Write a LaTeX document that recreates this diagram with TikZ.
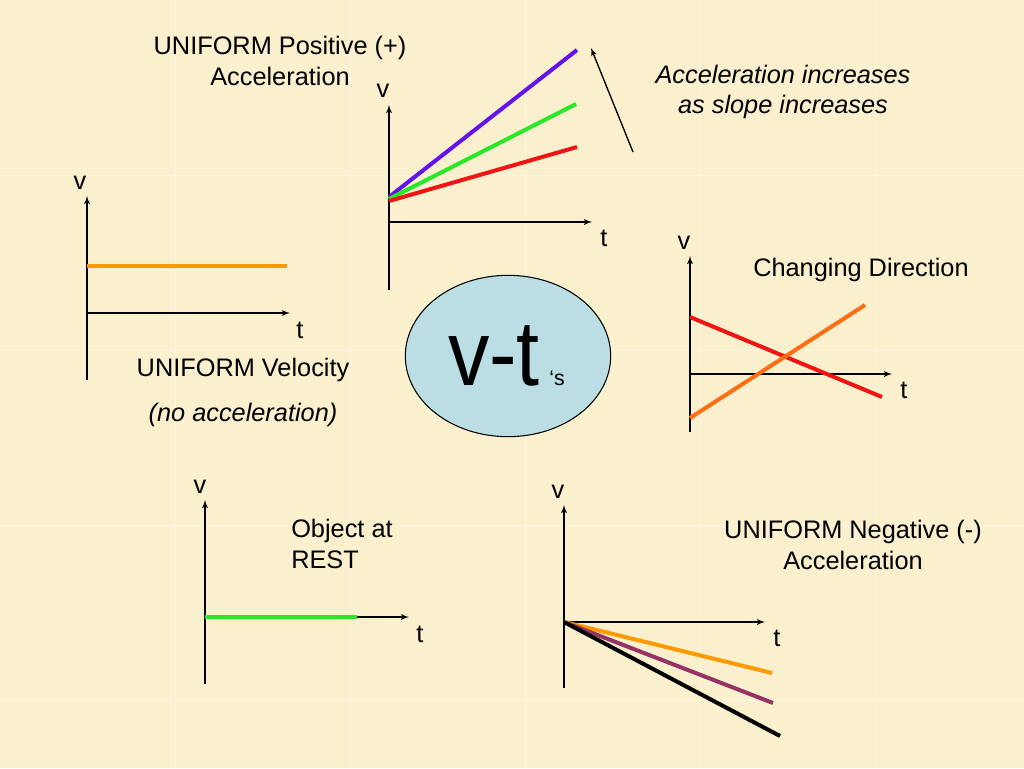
\documentclass[tikz,border=0pt]{standalone}
\usepackage{fontspec}
\setmainfont{Liberation Sans}
\usetikzlibrary{shapes, arrows}
\definecolor{parchment}{RGB}{250,240,206}
\definecolor{bubblefill}{RGB}{186,222,228}
\definecolor{violetline}{RGB}{100,20,232}
\definecolor{greenline}{RGB}{40,232,40}
\definecolor{redline}{RGB}{240,20,20}
\definecolor{orangeline}{RGB}{255,153,0}
\definecolor{darkorange}{RGB}{255,110,20}
\definecolor{plumline}{RGB}{150,50,100}
\tikzstyle{axis} =
        [
                draw,
                line width = 1.1pt,
                -latex'
        ]
\tikzstyle{graph} =
        [
                draw,
                line width = 3pt
        ]
\tikzstyle{label} =
        [
                font = \fontsize{19}{23}\selectfont,
                inner sep = 0pt,
                align = center
        ]
\tikzstyle{bubble} =
        [
                draw,
                ellipse,
                fill = bubblefill,
                line width = 0.8pt,
                minimum width = 154pt,
                minimum height = 121pt
        ]

\begin{document}
\begin{tikzpicture}[x = 0.75pt, y = -0.75pt]
        \useasboundingbox (0,0) rectangle (1024,768);
        \fill [parchment] (0,0) rectangle (1024,768);
        \foreach \s in {175, 350, 525, 700, 875}
        {
                \draw [white, opacity = 0.35, line width = 0.6pt] (\s,0) -- (\s,768);
                \draw [white, opacity = 0.35, line width = 0.6pt] (0,\s) -- (1024,\s);
        }

        % uniform positive acceleration
        \node [label] (postitle) at (280,61) {UNIFORM Positive (+)\\Acceleration};
        \node [label] (posv) at (383,91) {v};
        \node [label] (post) at (604,238) {t};
        \path [axis] (389,290) -- (389,105);
        \path [axis] (389,222) -- (592,222);
        \path [graph, violetline] (389,197) -- (577,50);
        \path [graph, greenline] (389,199) -- (576,104);
        \path [graph, redline] (389,201) -- (577,147);
        \coordinate (slopetail) at (633,152);
        \coordinate (slopehead) at (591,48);
        \path [axis, line width = 1pt] (slopetail) -- (slopehead);
        \node [label, font = \fontsize{19}{23}\selectfont\itshape] (slopenote) at (783,92) {Acceleration increases\\as slope increases};

        % uniform velocity
        \node [label] (velv) at (80,183) {v};
        \node [label] (velt) at (300,330) {t};
        \path [axis] (87,380) -- (87,196);
        \path [axis] (87,313) -- (290,313);
        \path [graph, orangeline] (87,266) -- (287,266);
        \node [label] (veltitle) at (243,370) {UNIFORM Velocity};
        \node [label, font = \fontsize{19}{23}\selectfont\itshape] (velnote) at (243,415) {(no acceleration)};

        % centre
        \node [bubble] (vt) at (508,356) {};
        \node [anchor = base, inner sep = 0pt] (vtmain) at (494,385) {\scalebox{1}[1.12]{\fontsize{62}{70}\selectfont v-t}};
        \node [anchor = base west, inner sep = 0pt, font = \fontsize{16}{18}\selectfont] (vts) at (549,385) {‘s};

        % changing direction
        \node [label] (dirtitle) at (861,270) {Changing Direction};
        \node [label] (dirv) at (684,243) {v};
        \node [label] (dirt) at (904,390) {t};
        \path [axis] (690,432) -- (690,256);
        \path [axis] (690,374) -- (892,374);
        \path [graph, redline] (690,317) -- (882,397);
        \path [graph, darkorange] (690,418) -- (865,305);

        % object at rest
        \node [label] (restv) at (200,487) {v};
        \node [label] (restt) at (420,634) {t};
        \path [axis] (205,684) -- (205,500);
        \path [axis] (205,617) -- (409,617);
        \path [graph, greenline] (205,617) -- (357,617);
        \node [label, anchor = west, align = left] (resttitle) at (291,544) {Object at\\REST};

        % uniform negative acceleration
        \node [label] (negtitle) at (853,545) {UNIFORM Negative (-)\\Acceleration};
        \node [label] (negv) at (558,492) {v};
        \node [label] (negt) at (777,638) {t};
        \path [axis] (564,688) -- (564,505);
        \path [axis] (564,622) -- (765,622);
        \path [graph, orangeline] (564,622) -- (772,673);
        \path [graph, plumline] (564,622) -- (773,703);
        \path [graph, black] (564,622) -- (780,736);
\end{tikzpicture}
\end{document}
